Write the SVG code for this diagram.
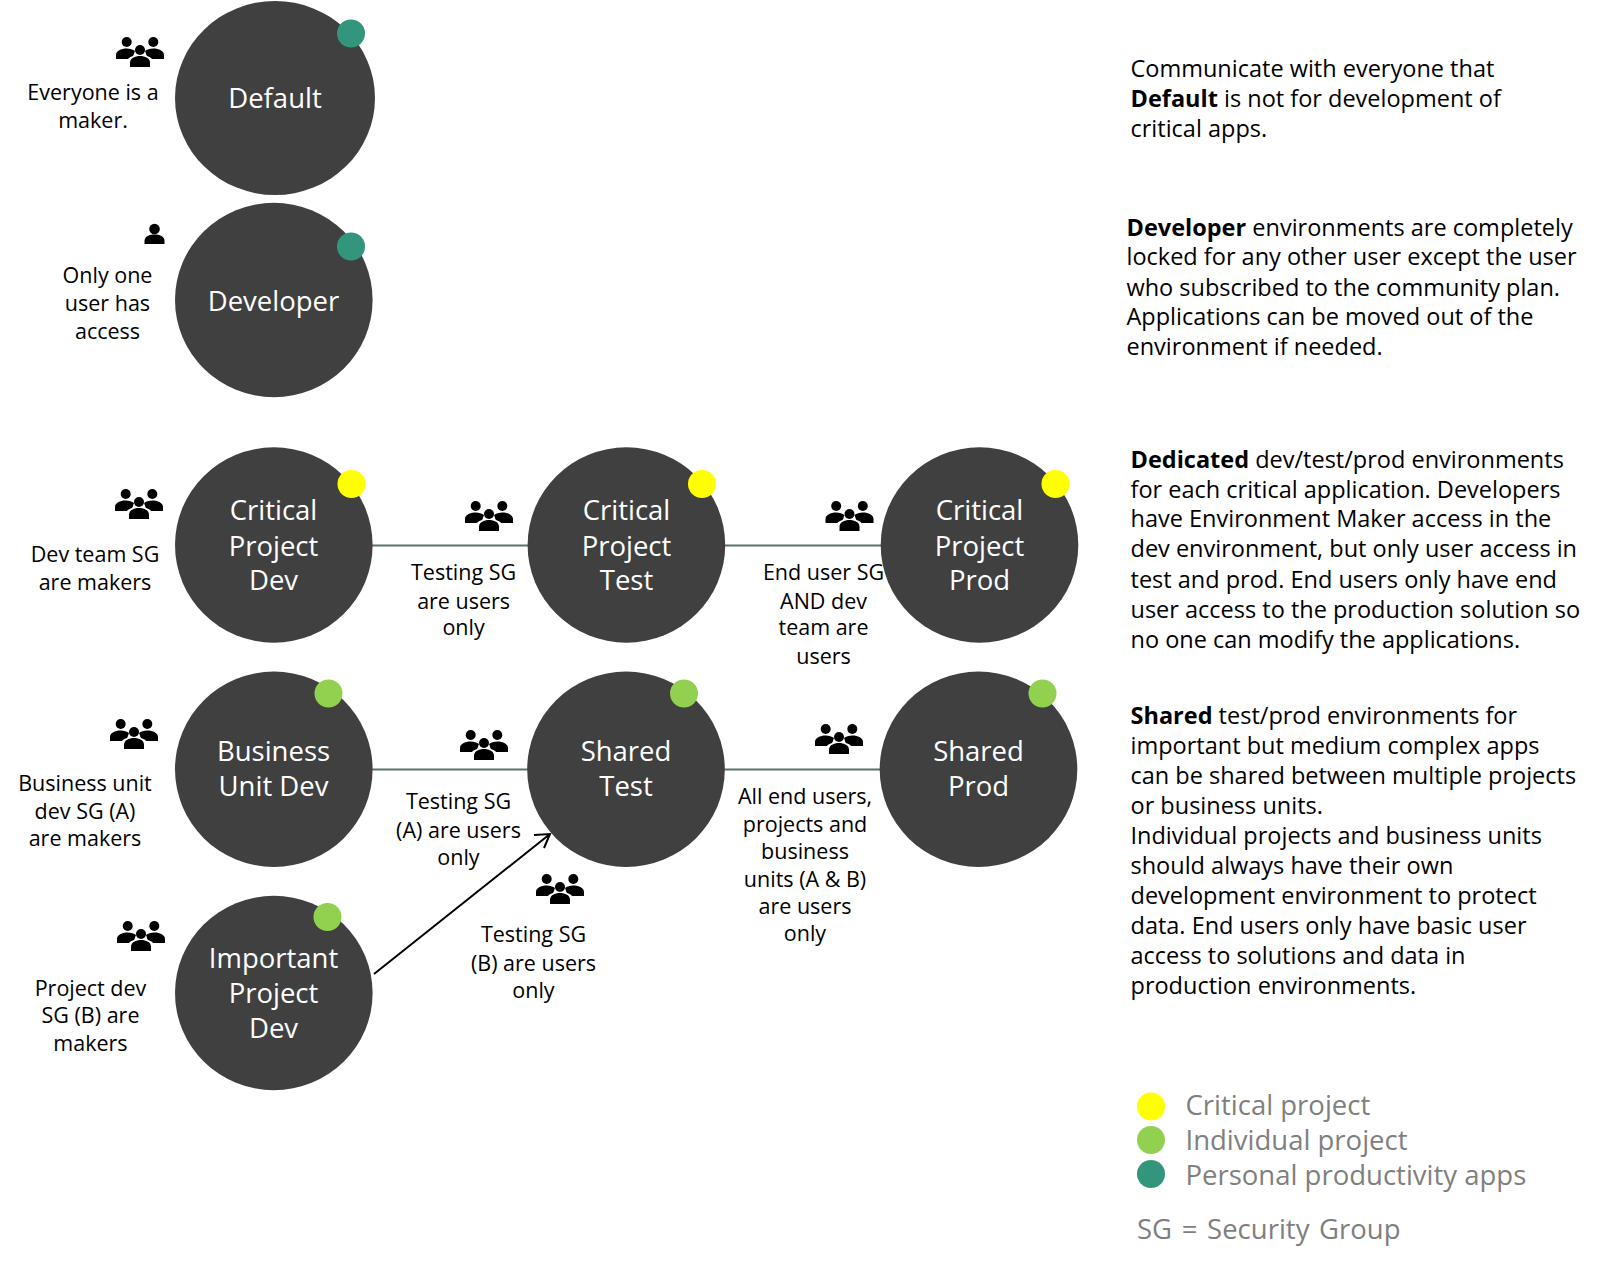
<svg xmlns="http://www.w3.org/2000/svg" width="1603" height="1265" viewBox="0 0 1603 1265">
<defs>
<g id="one"><circle cx="0" cy="-5" r="5.300"/><path d="M-10 10V7C-10 2 -5 0.500 0 0.500C5 0.500 10 2 10 7V10Z"/></g>
<g id="team"><circle cx="-13.300" cy="-10" r="5"/><circle cx="13.300" cy="-10" r="5"/><circle cx="0" cy="-2" r="5"/><path d="M-24 7V3C-24 -1 -19 -3.500 -13.300 -3.500C-10 -3.500 -7 -2.500 -5 -1C-6 1 -6 3 -7 4C-10 5 -11.500 6 -12 7Z"/><path d="M24 7V3C24 -1 19 -3.500 13.300 -3.500C10 -3.500 7 -2.500 5 -1C6 1 6 3 7 4C10 5 11.500 6 12 7Z"/><path d="M-10 15V11C-10 6 -5 4 0 4C5 4 10 6 10 11V15Z"/></g>
</defs>
<style>
text{font-family:"Open Sans","Noto Sans","Liberation Sans",sans-serif}
.n{fill:#404040}
.t{fill:#fff;font-size:27.500px;text-anchor:middle}
.l{fill:#000;font-size:21.500px;text-anchor:middle}
.r{fill:#000;font-size:23.500px}
.b{font-weight:700}
.g{fill:#7f7f7f;font-size:27.500px}
.c{stroke:#5a7566;stroke-width:2;fill:none}
.a{stroke:#000;stroke-width:2;fill:none}
.y{fill:#ffff00}.i{fill:#92d050}.p{fill:#33967c}
</style>
<rect width="1603" height="1265" fill="#fff"/>
<g id="connectors">
<path class="c" d="M372 545.500H529M725 545.500H883M372 769.500H528M724 769.500H882"/>
<path class="a" d="M374 974L550 834M534 835L550 834L544 848"/>
</g>
<g id="default"><ellipse class="n" cx="275" cy="98" rx="100" ry="97"/><circle class="p" cx="351" cy="33.500" r="14"/><text class="t" x="275" y="108">Default</text></g>
<g id="developer"><ellipse class="n" cx="273.800" cy="300" rx="98.800" ry="97.200"/><circle class="p" cx="351" cy="246.500" r="14"/><text class="t" x="273.500" y="310.500">Developer</text></g>
<g id="cpd"><ellipse class="n" cx="273.800" cy="545" rx="98.800" ry="97.700"/><circle class="y" cx="351.500" cy="484" r="14"/><text class="t" x="273.500" y="520">Critical</text><text class="t" x="273.500" y="555.500">Project</text><text class="t" x="273.500" y="589.500">Dev</text></g>
<g id="cpt"><ellipse class="n" cx="626.400" cy="545" rx="98.800" ry="97.700"/><circle class="y" cx="702" cy="484" r="14"/><text class="t" x="626.500" y="520">Critical</text><text class="t" x="626.500" y="555.500">Project</text><text class="t" x="626.500" y="589.500">Test</text></g>
<g id="cpp"><ellipse class="n" cx="979.500" cy="545" rx="98.800" ry="97.700"/><circle class="y" cx="1055.500" cy="484" r="14"/><text class="t" x="979.500" y="520">Critical</text><text class="t" x="979.500" y="555.500">Project</text><text class="t" x="979.500" y="589.500">Prod</text></g>
<g id="bud"><ellipse class="n" cx="273.800" cy="769.300" rx="98.800" ry="97.700"/><circle class="i" cx="328.500" cy="693.500" r="14"/><text class="t" x="273.500" y="761">Business</text><text class="t" x="273.500" y="796">Unit Dev</text></g>
<g id="st"><ellipse class="n" cx="626" cy="769.300" rx="98.800" ry="97.700"/><circle class="i" cx="684" cy="693.500" r="14"/><text class="t" x="626" y="761">Shared</text><text class="t" x="626" y="796">Test</text></g>
<g id="sp"><ellipse class="n" cx="978.500" cy="769.300" rx="98.800" ry="97.700"/><circle class="i" cx="1042.500" cy="693.500" r="14"/><text class="t" x="978.500" y="761">Shared</text><text class="t" x="978.500" y="796">Prod</text></g>
<g id="ipd"><ellipse class="n" cx="273.800" cy="993" rx="98.800" ry="97.200"/><circle class="i" cx="327.500" cy="917" r="14"/><text class="t" x="273.500" y="968">Important</text><text class="t" x="273.500" y="1003">Project</text><text class="t" x="273.500" y="1037.500">Dev</text></g>
<g id="icons">
<use href="#team" x="140" y="52"/><use href="#one" x="154.500" y="234"/><use href="#team" x="139" y="504"/><use href="#team" x="489" y="516"/><use href="#team" x="849.500" y="516"/><use href="#team" x="134" y="734"/><use href="#team" x="484" y="745"/><use href="#team" x="839" y="739"/><use href="#team" x="141" y="936"/><use href="#team" x="560" y="889"/>
</g>
<g id="labels">
<text class="l" x="93" y="100">Everyone is a</text><text class="l" x="93" y="128">maker.</text>
<text class="l" x="107.500" y="283">Only one</text><text class="l" x="107.500" y="311">user has</text><text class="l" x="107.500" y="339">access</text>
<text class="l" x="95" y="562">Dev team SG</text><text class="l" x="95" y="589.500">are makers</text>
<text class="l" x="463.600" y="580">Testing SG</text><text class="l" x="463.600" y="609">are users</text><text class="l" x="463.600" y="635">only</text>
<text class="l" x="823.500" y="580">End user SG</text><text class="l" x="823.500" y="609">AND dev</text><text class="l" x="823.500" y="635">team are</text><text class="l" x="823.500" y="664">users</text>
<text class="l" x="85" y="791">Business unit</text><text class="l" x="85" y="819">dev SG (A)</text><text class="l" x="85" y="846">are makers</text>
<text class="l" x="458.500" y="809">Testing SG</text><text class="l" x="458.500" y="837.500">(A) are users</text><text class="l" x="458.500" y="865">only</text>
<text class="l" x="805" y="803.500">All end users,</text><text class="l" x="805" y="831.500">projects and</text><text class="l" x="805" y="858.500">business</text><text class="l" x="805" y="886.500">units (A &amp; B)</text><text class="l" x="805" y="913.500">are users</text><text class="l" x="805" y="941">only</text>
<text class="l" x="533.500" y="942">Testing SG</text><text class="l" x="533.500" y="970.500">(B) are users</text><text class="l" x="533.500" y="997.500">only</text>
<text class="l" x="90.500" y="995.500">Project dev</text><text class="l" x="90.500" y="1023">SG (B) are</text><text class="l" x="90.500" y="1050.500">makers</text>
</g>
<g id="notes">
<text class="r" x="1130.500" y="76.800">Communicate with everyone that</text><text class="r" x="1130.500" y="107"><tspan class="b">Default</tspan> is not for development of</text><text class="r" x="1130.500" y="136.500">critical apps.</text>
<text class="r" x="1126.500" y="235.500"><tspan class="b">Developer</tspan> environments are completely</text><text class="r" x="1126.500" y="265">locked for any other user except the user</text><text class="r" x="1126.500" y="295.500">who subscribed to the community plan.</text><text class="r" x="1126.500" y="325">Applications can be moved out of the</text><text class="r" x="1126.500" y="355">environment if needed.</text>
<text class="r" x="1130.500" y="468"><tspan class="b">Dedicated</tspan> dev/test/prod environments</text><text class="r" x="1130.500" y="497.500">for each critical application. Developers</text><text class="r" x="1130.500" y="527">have Environment Maker access in the</text><text class="r" x="1130.500" y="557">dev environment, but only user access in</text><text class="r" x="1130.500" y="587.500">test and prod. End users only have end</text><text class="r" x="1130.500" y="618">user access to the production solution so</text><text class="r" x="1130.500" y="648">no one can modify the applications.</text>
<text class="r" x="1130.500" y="723.700"><tspan class="b">Shared</tspan> test/prod environments for</text><text class="r" x="1130.500" y="754">important but medium complex apps</text><text class="r" x="1130.500" y="784">can be shared between multiple projects</text><text class="r" x="1130.500" y="813.500">or business units.</text><text class="r" x="1130.500" y="843.500">Individual projects and business units</text><text class="r" x="1130.500" y="874">should always have their own</text><text class="r" x="1130.500" y="903.500">development environment to protect</text><text class="r" x="1130.500" y="933.500">data. End users only have basic user</text><text class="r" x="1130.500" y="963.500">access to solutions and data in</text><text class="r" x="1130.500" y="993.500">production environments.</text>
</g>
<g id="legend">
<circle class="y" cx="1151" cy="1106.500" r="14"/><circle class="i" cx="1151" cy="1140" r="14"/><circle class="p" cx="1151" cy="1174" r="14"/>
<text class="g" x="1185.500" y="1114.500">Critical project</text><text class="g" x="1185.500" y="1150">Individual project</text><text class="g" x="1185.500" y="1185">Personal productivity apps</text><text class="g" x="1137" y="1238.500" word-spacing="2.500">SG = Security Group</text>
</g>
</svg>
